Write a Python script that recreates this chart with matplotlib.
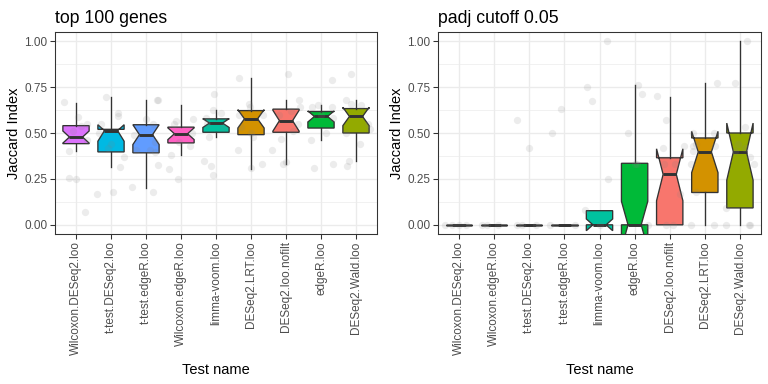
import matplotlib
matplotlib.use("Agg")
import matplotlib.pyplot as plt
import numpy as np

plt.rcParams['font.family'] = ['Liberation Sans', 'DejaVu Sans']

# left panel: top 100 genes
tests_top = ["Wilcoxon.DESeq2.loo", "t-test.DESeq2.loo", "t-test.edgeR.loo",
             "Wilcoxon.edgeR.loo", "limma-voom.loo", "DESeq2.LRT.loo",
             "DESeq2.loo.nofilt", "edgeR.loo", "DESeq2.Wald.loo"]
top_q1 = [0.442, 0.397, 0.392, 0.446, 0.504, 0.491, 0.504, 0.527, 0.500]
top_med = [0.478, 0.513, 0.491, 0.496, 0.554, 0.577, 0.567, 0.590, 0.590]
top_q3 = [0.540, 0.520, 0.545, 0.532, 0.577, 0.622, 0.630, 0.617, 0.633]
top_lo = [0.400, 0.317, 0.203, 0.380, 0.477, 0.306, 0.330, 0.460, 0.347]
top_hi = [0.665, 0.694, 0.680, 0.653, 0.626, 0.802, 0.680, 0.651, 0.680]
top_cilo = [0.445, 0.455, 0.437, 0.464, 0.530, 0.527, 0.510, 0.560, 0.540]
top_cihi = [0.511, 0.545, 0.545, 0.528, 0.578, 0.627, 0.624, 0.620, 0.640]

# right panel: padj cutoff 0.05
tests_padj = ["Wilcoxon.DESeq2.loo", "Wilcoxon.edgeR.loo", "t-test.DESeq2.loo",
              "t-test.edgeR.loo", "limma-voom.loo", "edgeR.loo",
              "DESeq2.loo.nofilt", "DESeq2.LRT.loo", "DESeq2.Wald.loo"]
padj_q1 = [0, 0, 0, 0, 0, 0, 0, 0.176, 0.092]
padj_med = [0, 0, 0, 0, 0, 0, 0.275, 0.397, 0.397]
padj_q3 = [0, 0, 0, 0, 0.077, 0.335, 0.365, 0.473, 0.500]
padj_lo = [0, 0, 0, 0, 0, 0, 0, 0, 0]
padj_hi = [0, 0, 0, 0, 0.077, 0.761, 0.698, 0.770, 1.0]
padj_cilo = [0, 0, 0, 0, -0.032, -0.128, 0.131, 0.284, 0.243]
padj_cihi = [0, 0, 0, 0, 0.032, 0.128, 0.414, 0.509, 0.554]

test_colors = {
    "DESeq2.loo.nofilt": "#F8766D", "DESeq2.LRT.loo": "#D39200",
    "DESeq2.Wald.loo": "#93AA00", "edgeR.loo": "#00BA38",
    "limma-voom.loo": "#00C19F", "t-test.DESeq2.loo": "#00B9E3",
    "t-test.edgeR.loo": "#619CFF", "Wilcoxon.DESeq2.loo": "#DB72FB",
    "Wilcoxon.edgeR.loo": "#FF61C3",
}

# jittered raw points: (group index, x offset, value)
top_pts = [
    (0, -0.35, 0.667), (0, -0.2, 0.40), (0, -0.2, 0.257), (0, 0.0, 0.252), (0, 0.25, 0.072),
    (0, 0.05, 0.585), (0, -0.1, 0.51), (0, 0.15, 0.54), (0, 0.3, 0.46), (0, 0.3, 0.55),
    (1, -0.4, 0.17), (1, 0.05, 0.178), (1, -0.15, 0.694), (1, 0.2, 0.61), (1, 0.2, 0.59),
    (1, 0.0, 0.44), (1, -0.1, 0.42), (1, 0.25, 0.315), (1, 0.38, 0.37), (1, -0.3, 0.55), (1, -0.35, 0.50),
    (2, -0.4, 0.205), (2, 0.2, 0.178), (2, 0.3, 0.68), (2, 0.33, 0.68), (2, 0.0, 0.575),
    (2, -0.35, 0.49), (2, -0.28, 0.41), (2, 0.1, 0.41), (2, 0.25, 0.395), (2, 0.33, 0.325),
    (2, 0.25, 0.45), (2, 0.2, 0.55),
    (3, -0.3, 0.38), (3, -0.35, 0.305), (3, -0.1, 0.25), (3, -0.15, 0.565), (3, -0.2, 0.55),
    (3, 0.25, 0.43), (3, 0.35, 0.575), (3, 0.3, 0.5), (3, -0.05, 0.45),
    (4, -0.05, 0.71), (4, -0.1, 0.625), (4, 0.15, 0.61), (4, -0.3, 0.58), (4, -0.35, 0.35),
    (4, -0.15, 0.32), (4, -0.1, 0.27), (4, -0.2, 0.48), (4, 0.2, 0.53), (4, -0.25, 0.55),
    (5, -0.35, 0.80), (5, -0.38, 0.41), (5, -0.05, 0.66), (5, -0.03, 0.64), (5, -0.35, 0.60),
    (5, -0.3, 0.53), (5, 0.0, 0.50), (5, 0.05, 0.48), (5, 0.0, 0.31), (5, 0.3, 0.33), (5, 0.35, 0.60),
    (6, 0.05, 0.82), (6, -0.4, 0.41), (6, -0.1, 0.33), (6, 0.0, 0.34), (6, -0.15, 0.47),
    (6, -0.2, 0.60), (6, 0.15, 0.62), (6, 0.38, 0.68), (6, 0.35, 0.55), (6, 0.2, 0.51), (6, 0.4, 0.64),
    (7, -0.2, 0.31), (7, -0.28, 0.46), (7, -0.25, 0.64), (7, -0.1, 0.65), (7, 0.3, 0.786),
    (7, 0.3, 0.64), (7, 0.35, 0.58), (7, 0.35, 0.33), (7, 0.15, 0.50), (7, 0.0, 0.60),
    (8, -0.15, 0.82), (8, -0.3, 0.68), (8, -0.15, 0.66), (8, 0.15, 0.65), (8, 0.1, 0.44),
    (8, -0.2, 0.35), (8, -0.25, 0.32), (8, 0.35, 0.55), (8, 0.4, 0.52), (8, -0.3, 0.50),
]
padj_pts = [
    (0, -0.4, 0), (0, -0.2, 0), (0, 0.0, 0), (0, 0.2, 0),
    (1, -0.35, 0), (1, -0.2, 0), (1, 0.1, 0),
    (2, -0.35, 0.573), (2, 0.0, 0.416), (2, -0.35, 0), (2, -0.2, 0), (2, 0.2, 0),
    (3, -0.1, 0.63), (3, -0.35, 0.50), (3, -0.4, 0), (3, 0.3, 0),
    (4, 0.2, 1.0), (4, -0.35, 0.75), (4, -0.2, 0.673), (4, 0.25, 0.25), (4, -0.4, 0.08), (4, 0.0, 0),
    (5, 0.1, 0.76), (5, 0.22, 0.713), (5, -0.2, 0.50), (5, 0.0, 0.33), (5, 0.08, 0.33), (5, 0.38, 0),
    (6, -0.35, 0.70), (6, -0.1, 0.57), (6, -0.2, 0.42), (6, -0.15, 0.33), (6, 0.15, 0.33),
    (6, 0.4, 0.43), (6, 0.3, 0.17), (6, -0.1, 0), (6, 0.1, 0),
    (7, 0.35, 0.77), (7, -0.35, 0.50), (7, -0.35, 0.43), (7, -0.35, 0.40), (7, -0.4, 0.33),
    (7, -0.25, 0.44), (7, 0.25, 0.50), (7, 0.3, 0.43), (7, -0.25, 0.18), (7, -0.4, 0), (7, 0.25, 0),
    (8, 0.2, 1.0), (8, -0.15, 0.775), (8, 0.15, 0.53), (8, -0.05, 0.44), (8, 0.15, 0.42),
    (8, -0.15, 0.40), (8, 0.3, 0.37), (8, 0.4, 0.33), (8, -0.4, 0.09), (8, -0.4, 0),
    (8, 0.25, 0), (8, 0.3, 0),
]

fig = plt.figure(figsize=(8, 4), dpi=96)
W, H = 768, 384


def panel(rect, title, tests, q1, med, q3, lo, hi, cilo, cihi, pts):
    ax = fig.add_axes([rect[0] / W, 1 - rect[3] / H, (rect[2] - rect[0]) / W, (rect[3] - rect[1]) / H])
    stats = []
    for i in range(len(tests)):
        stats.append(dict(med=med[i], q1=q1[i], q3=q3[i], whislo=lo[i], whishi=hi[i],
                          cilo=cilo[i], cihi=cihi[i], fliers=[]))
    pos = np.arange(1, len(tests) + 1)
    bp = ax.bxp(stats, positions=pos, widths=0.75, shownotches=True, patch_artist=True,
                showcaps=False,
                boxprops=dict(edgecolor="#333333", linewidth=1.0),
                whiskerprops=dict(color="#333333", linewidth=1.0),
                medianprops=dict(color="#333333", linewidth=2.2, solid_capstyle="butt"))
    for patch, t in zip(bp['boxes'], tests):
        patch.set_facecolor(test_colors[t])
    px = [pos[g] + off for g, off, v in pts]
    py = [v for g, off, v in pts]
    ax.scatter(px, py, s=30, color="grey", alpha=0.15, linewidths=0, zorder=5)

    ax.set_xlim(0.4, len(tests) + 0.6)
    ax.set_ylim(-0.05, 1.05)
    ax.set_yticks([0, 0.25, 0.5, 0.75, 1.0])
    ax.set_yticklabels(["0.00", "0.25", "0.50", "0.75", "1.00"])
    ax.set_yticks([0.125, 0.375, 0.625, 0.875], minor=True)
    ax.set_xticks(pos)
    ax.set_xticklabels(tests, rotation=90)
    ax.grid(True, which="major", color="#EBEBEB", linewidth=1.0)
    ax.grid(True, which="minor", axis="y", color="#EBEBEB", linewidth=0.5)
    ax.set_axisbelow(True)
    ax.tick_params(axis="both", which="major", length=3.5, color="#333333", width=0.8,
                   labelsize=8.8, labelcolor="#4D4D4D", pad=2)
    ax.tick_params(axis="y", which="minor", length=0)
    for s in ax.spines.values():
        s.set_color("#333333")
        s.set_linewidth(0.8)
    ax.set_title(title, loc="left", fontsize=13.2, pad=7)
    ax.set_ylabel("Jaccard Index", fontsize=11, labelpad=3)
    ax.set_xlabel("Test name", fontsize=11, labelpad=6)
    return ax


panel((55, 32, 377, 234), "top 100 genes", tests_top, top_q1, top_med, top_q3,
      top_lo, top_hi, top_cilo, top_cihi, top_pts)
panel((438, 32, 761, 234), "padj cutoff 0.05", tests_padj, padj_q1, padj_med, padj_q3,
      padj_lo, padj_hi, padj_cilo, padj_cihi, padj_pts)

fig.savefig("out.png", dpi=96)
